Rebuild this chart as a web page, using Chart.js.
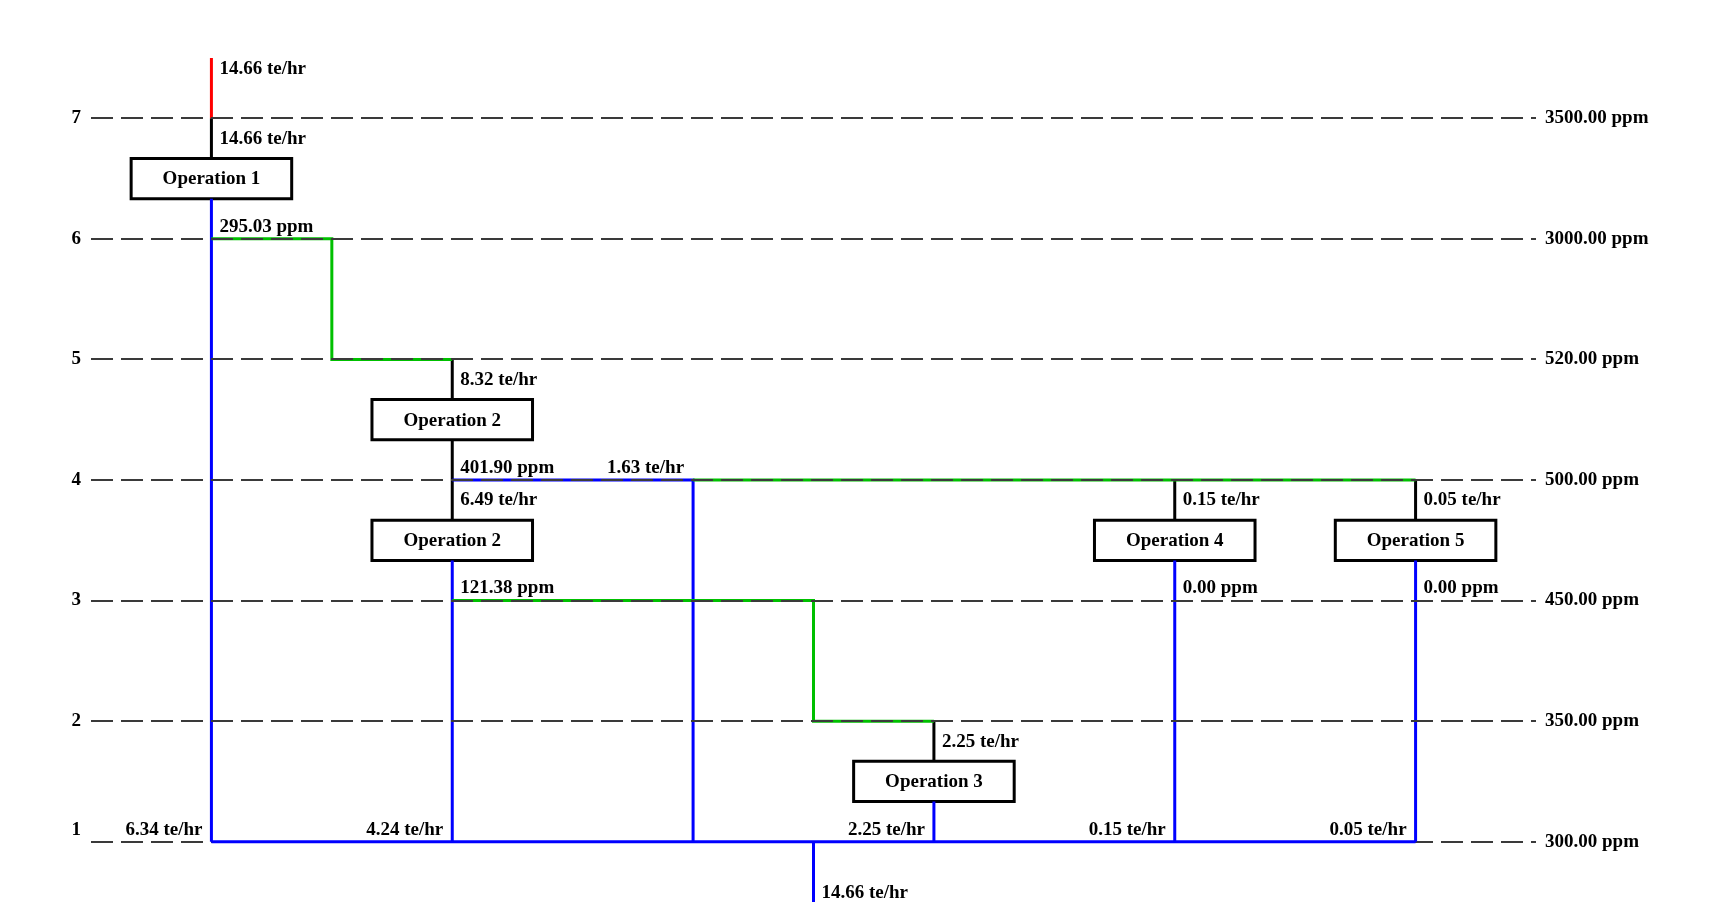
<!DOCTYPE html>
<html>
<head>
<meta charset="utf-8">
<title>Water network diagram</title>
<script src="https://cdn.jsdelivr.net/npm/chart.js@4.4.0/dist/chart.umd.min.js"></script>
<style>
  html, body { margin: 0; padding: 0; background: #fff; }
  #wrap { width: 1716px; height: 917px; position: relative; }
</style>
</head>
<body>
<div id="wrap"><canvas id="diagram"></canvas></div>
<script>
// concentration levels (rows) and the ppm value of each
const levels = [1, 2, 3, 4, 5, 6, 7];
const levelPpm = ['300.00 ppm', '350.00 ppm', '450.00 ppm', '500.00 ppm', '520.00 ppm', '3000.00 ppm', '3500.00 ppm'];

// operations: name, column, centre level, where the feed comes from, where the outlet goes
const opNames = ['Operation 1', 'Operation 2', 'Operation 2', 'Operation 3', 'Operation 4', 'Operation 5'];
const opCol = [0, 2, 2, 6, 8, 10];
const opLevel = [6.5, 4.5, 3.5, 1.5, 3.5, 3.5];
const opFeedFrom = [7, 5, 4, 2, 4, 4];
const opOutTo = [1, 4, 1, 1, 1, 1];

// streams as [column, level] points
const freshWater = [[[0, 7.5], [0, 7]]];
const greenHeaders = [
  [[0, 6], [1, 6], [1, 5], [2, 5]],
  [[4, 4], [10, 4]],
  [[2, 3], [5, 3], [5, 2], [6, 2]]
];
const blueHeaders = [
  [[2, 4], [4, 4], [4, 1]],
  [[0, 1], [10, 1]],
  [[5, 1], [5, 0.5]]
];

// stream labels
const streamText = ['14.66 te/hr', '14.66 te/hr', '295.03 ppm', '8.32 te/hr', '401.90 ppm', '1.63 te/hr',
  '6.49 te/hr', '121.38 ppm', '2.25 te/hr', '0.15 te/hr', '0.05 te/hr', '0.00 ppm', '0.00 ppm',
  '6.34 te/hr', '4.24 te/hr', '2.25 te/hr', '0.15 te/hr', '0.05 te/hr', '14.66 te/hr'];
const textCol = [0, 0, 0, 2, 2, 4, 2, 2, 6, 8, 10, 8, 10, 0, 2, 6, 8, 10, 5];
const textLevel = [7.41, 6.83, 6.1, 4.83, 4.1, 4.1, 3.83, 3.1, 1.83, 3.83, 3.83, 3.1, 3.1, 1.1, 1.1, 1.1, 1.1, 1.1, 0.57];
const textSide = ['r', 'r', 'r', 'r', 'r', 'l', 'r', 'r', 'r', 'r', 'r', 'r', 'r', 'l', 'l', 'l', 'l', 'l', 'r'];

const BOX_W = 2 / 3;   // half width of an operation box, in columns
const BOX_H = 1 / 6;   // half height, in levels
const FONT = 'bold 19px "Liberation Serif"';

Chart.defaults.font.family = '"Liberation Serif", "Times New Roman", serif';
Chart.defaults.color = '#000';

function line(points, color, extra) {
  return Object.assign({
    data: points.map(p => ({ x: p[0], y: p[1] })),
    showLine: true,
    borderColor: color,
    borderWidth: 3,
    pointRadius: 0,
    fill: false,
    tension: 0,
    clip: false
  }, extra || {});
}

const datasets = [];
freshWater.forEach(s => datasets.push(line(s, '#ff0000')));
greenHeaders.forEach(s => datasets.push(line(s, '#00c000')));
blueHeaders.forEach(s => datasets.push(line(s, '#0000ff')));
opNames.forEach((n, i) => {
  const c = opCol[i], l = opLevel[i];
  datasets.push(line([[c, opFeedFrom[i]], [c, l + BOX_H]], '#000000'));
  datasets.push(line([[c, l - BOX_H], [c, opOutTo[i]]], opOutTo[i] === 1 ? '#0000ff' : '#000000'));
  datasets.push(line([[c - BOX_W, l - BOX_H], [c + BOX_W, l - BOX_H], [c + BOX_W, l + BOX_H],
    [c - BOX_W, l + BOX_H], [c - BOX_W, l - BOX_H]], '#000000', { borderCapStyle: 'square', borderJoinStyle: 'miter' }));
});

const textPlugin = {
  id: 'diagramText',
  afterDraw(chart) {
    const { ctx, scales: { x, y } } = chart;
    ctx.save();
    ctx.font = FONT;
    ctx.fillStyle = '#000';
    ctx.textBaseline = 'middle';
    ctx.textAlign = 'center';
    opNames.forEach((n, i) => {
      ctx.fillText(n, x.getPixelForValue(opCol[i]), y.getPixelForValue(opLevel[i]) + 1);
    });
    streamText.forEach((t, i) => {
      const px = x.getPixelForValue(textCol[i]);
      const py = y.getPixelForValue(textLevel[i]);
      if (textSide[i] === 'l') {
        ctx.textAlign = 'right';
        ctx.fillText(t, px - 9, py);
      } else {
        ctx.textAlign = 'left';
        ctx.fillText(t, px + 8, py);
      }
    });
    ctx.restore();
  }
};

const setLevelTicks = s => { s.ticks = levels.map(v => ({ value: v })); };

new Chart(document.getElementById('diagram'), {
  type: 'scatter',
  data: { datasets: datasets },
  options: {
    responsive: true,
    maintainAspectRatio: false,
    animation: false,
    events: [],
    layout: { padding: { top: 58, bottom: 15, left: 0, right: 0 } },
    plugins: { legend: { display: false }, tooltip: { enabled: false } },
    scales: {
      x: { type: 'linear', min: -1, max: 11, display: false },
      y: {
        type: 'linear', position: 'left', min: 0.5, max: 7.5,
        afterBuildTicks: setLevelTicks,
        afterFit: s => { s.width = 91; s.paddingTop = 0; s.paddingBottom = 0; },
        border: { display: false, dash: [22, 8] },
        grid: {
          z: 1, drawTicks: false, lineWidth: 2,
          color: c => (c.tick && c.tick.value === 1) ? 'rgba(0,0,0,0)' : '#3a3a3a'
        },
        ticks: {
          padding: 10, color: '#000', font: { size: 19, weight: 'bold' },
          // the bottom level number sits a line higher, beside the stream label
          callback: v => v === 1 ? ['1', ''] : String(v)
        }
      },
      yr: {
        type: 'linear', position: 'right', min: 0.5, max: 7.5,
        afterBuildTicks: setLevelTicks,
        afterFit: s => { s.width = 180; s.paddingTop = 0; s.paddingBottom = 0; },
        border: { display: false, dash: [22, 8] },
        grid: {
          drawTicks: false, lineWidth: 2,
          color: c => (c.tick && c.tick.value === 1) ? '#3a3a3a' : 'rgba(0,0,0,0)'
        },
        ticks: {
          padding: 9, color: '#000', font: { size: 19, weight: 'bold' },
          callback: v => levelPpm[levels.indexOf(v)]
        }
      }
    }
  },
  plugins: [textPlugin]
});
</script>
</body>
</html>
